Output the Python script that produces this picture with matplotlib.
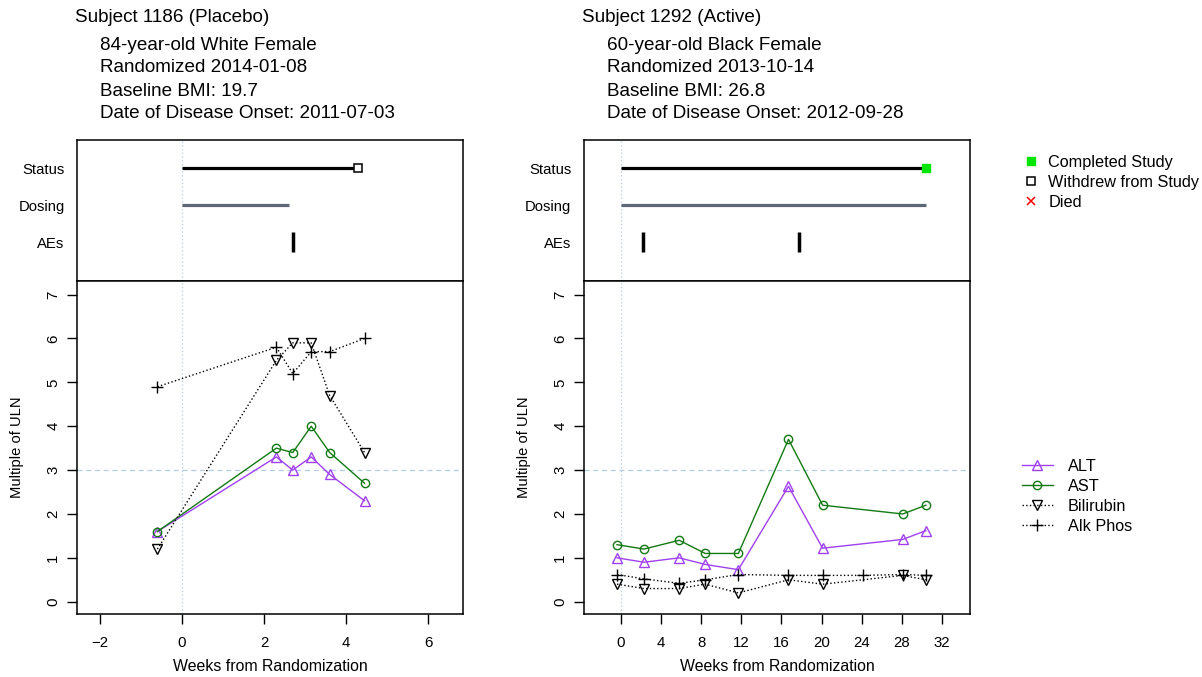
import matplotlib.pyplot as plt
from matplotlib.lines import Line2D

plt.rcParams['font.family'] = ['Liberation Sans', 'DejaVu Sans']

# header text for each subject
s1_header = ["Subject 1186 (Placebo)", "84-year-old White Female", "Randomized 2014-01-08",
             "Baseline BMI: 19.7", "Date of Disease Onset: 2011-07-03"]
s2_header = ["Subject 1292 (Active)", "60-year-old Black Female", "Randomized 2013-10-14",
             "Baseline BMI: 26.8", "Date of Disease Onset: 2012-09-28"]

track_labels = ["Status", "Dosing", "AEs"]
status_labels = ["Completed Study", "Withdrew from Study", "Died"]
lab_labels = ["ALT", "AST", "Bilirubin", "Alk Phos"]

# subject 1186 (weeks from randomization)
s1_status_end = 4.3
s1_status = "Withdrew from Study"
s1_dose_end = 2.6
s1_ae_weeks = [2.7]
s1_weeks = [-0.6, 2.3, 2.7, 3.15, 3.6, 4.45]
s1_alt = [1.6, 3.3, 3.0, 3.3, 2.9, 2.3]
s1_ast = [1.6, 3.5, 3.4, 4.0, 3.4, 2.7]
s1_bili = [1.2, 5.5, 5.9, 5.9, 4.7, 3.4]
s1_alkp_weeks = [-0.6, 2.3, 2.7, 3.15, 3.6, 4.45]
s1_alkp = [4.9, 5.8, 5.2, 5.7, 5.7, 6.0]

# subject 1292
s2_status_end = 30.4
s2_status = "Completed Study"
s2_dose_end = 30.4
s2_ae_weeks = [2.2, 17.7]
s2_weeks = [-0.4, 2.3, 5.8, 8.4, 11.7, 16.7, 20.1, 28.1, 30.4]
s2_alt = [1.0, 0.9, 1.0, 0.85, 0.73, 2.63, 1.22, 1.42, 1.62]
s2_ast = [1.3, 1.2, 1.4, 1.1, 1.1, 3.7, 2.2, 2.0, 2.2]
s2_bili = [0.4, 0.3, 0.3, 0.4, 0.2, 0.5, 0.4, 0.6, 0.5]
s2_alkp_weeks = [-0.4, 2.3, 5.8, 8.4, 11.7, 16.7, 20.1, 24.1, 28.1, 30.4]
s2_alkp = [0.62, 0.52, 0.42, 0.5, 0.62, 0.6, 0.6, 0.6, 0.62, 0.6]

s1_xticks = [-2, 0, 2, 4, 6]
s2_xticks = [0, 4, 8, 12, 16, 20, 24, 28, 32]
y_ticks = [0, 1, 2, 3, 4, 5, 6, 7]

alt_col = '#a040f0'
ast_col = '#137a13'
dose_col = '#5f6877'
ref_col = '#b4cdee'

status_style = {
    "Completed Study": dict(marker='s', color='#00e600', mfc='#00e600', mec='#00e600', ms=6),
    "Withdrew from Study": dict(marker='s', color='black', mfc='white', mec='black', ms=6, mew=1.1),
    "Died": dict(marker='x', color='red', mec='red', ms=6, mew=1.1),
}

W, H = 1202, 677
fig = plt.figure(figsize=(W / 100, H / 100), dpi=100)


def px_axes(x0, y0, x1, y1):
    return fig.add_axes([x0 / W, 1 - y1 / H, (x1 - x0) / W, (y1 - y0) / H])


def draw_subject(x0, header, xlim, xticks, status_end, status, dose_end, ae_weeks,
                 weeks, alt, ast, bili, alkp_weeks, alkp):
    x1 = x0 + 386
    # header text
    fig.text((x0 - 2) / W, 1 - 18 / H, header[0], fontsize=13.6, va='center', ha='left')
    for i, line in enumerate(header[1:]):
        fig.text((x0 + 23) / W, 1 - [45, 68, 91, 113][i] / H, line, fontsize=13.6,
                 va='center', ha='left')

    top = px_axes(x0, 140, x1, 281)
    top.set_xlim(xlim)
    top.set_ylim(-0.05, 3.76)
    top.plot([0, status_end], [3, 3], color='black', lw=2.3, solid_capstyle='butt', zorder=3)
    top.plot([status_end], [3], ls='none', zorder=4, **status_style[status])
    top.plot([0, dose_end], [2, 2], color=dose_col, lw=2.3, solid_capstyle='butt', zorder=3)
    top.plot(ae_weeks, [1] * len(ae_weeks), ls='none', marker='|', ms=14, mew=2.5,
             color='black', zorder=3)
    top.axvline(0, color=ref_col, ls=(0, (1, 2)), lw=0.9, zorder=1)
    top.set_xticks([])
    top.set_yticks([3, 2, 1])
    top.set_yticklabels(track_labels, fontsize=10.7)
    top.tick_params(axis='y', length=0, pad=9)

    bot = px_axes(x0, 281, x1, 614)
    bot.set_xlim(xlim)
    bot.set_ylim(-0.28, 7.31)
    bot.axvline(0, color=ref_col, ls=(0, (1, 2)), lw=0.9, zorder=1)
    bot.axhline(3, color=ref_col, ls=(0, (4, 3)), lw=0.9, zorder=1)
    bot.plot(weeks, alt, color=alt_col, lw=1, marker='^', ms=7.5, mfc='none', mew=1, zorder=3)
    bot.plot(weeks, ast, color=ast_col, lw=1, marker='o', ms=6, mfc='none', mew=1, zorder=3)
    bot.plot(weeks, bili, color='black', lw=1, ls=':', marker='v', ms=7.5, mfc='none',
             mew=1, zorder=3)
    bot.plot(alkp_weeks, alkp, color='black', lw=1, ls=':', marker='+', ms=9, mew=1, zorder=3)
    bot.set_xticks(xticks)
    bot.set_yticks(y_ticks)
    bot.tick_params(axis='both', length=7, width=1, labelsize=10.8, direction='out')
    bot.tick_params(axis='x', pad=9)
    bot.tick_params(axis='y', pad=5)
    for lab in bot.get_yticklabels():
        lab.set_rotation(90)
        lab.set_va('center')
    bot.set_xlabel("Weeks from Randomization", fontsize=11.4, labelpad=6)
    bot.set_ylabel("Multiple of ULN", fontsize=10.6, labelpad=16)
    for ax in (top, bot):
        for sp in ax.spines.values():
            sp.set_linewidth(1.1)


draw_subject(77, s1_header, (-2.56, 6.85), s1_xticks, s1_status_end, s1_status,
             s1_dose_end, s1_ae_weeks, s1_weeks, s1_alt, s1_ast, s1_bili,
             s1_alkp_weeks, s1_alkp)
draw_subject(584, s2_header, (-3.69, 34.8), s2_xticks, s2_status_end, s2_status,
             s2_dose_end, s2_ae_weeks, s2_weeks, s2_alt, s2_ast, s2_bili,
             s2_alkp_weeks, s2_alkp)

# status legend
st_handles = [Line2D([], [], ls='none', **status_style[s]) for s in status_labels]
fig.legend(st_handles, status_labels, loc='upper left', bbox_to_anchor=(1023 / W, 1 - 155 / H),
           frameon=False, fontsize=11.7, handlelength=1.0, handletextpad=0.55,
           labelspacing=0.3, borderpad=0, borderaxespad=0)

# lab legend
lab_handles = [
    Line2D([], [], color=alt_col, lw=1, marker='^', ms=7.5, mfc='none'),
    Line2D([], [], color=ast_col, lw=1, marker='o', ms=6, mfc='none'),
    Line2D([], [], color='black', lw=1, ls=':', marker='v', ms=7.5, mfc='none'),
    Line2D([], [], color='black', lw=1, ls=':', marker='+', ms=9),
]
fig.legend(lab_handles, lab_labels, loc='upper left', bbox_to_anchor=(1022 / W, 1 - 459 / H),
           frameon=False, fontsize=11.7, handlelength=1.9, handletextpad=0.9,
           labelspacing=0.3, borderpad=0, borderaxespad=0)

fig.savefig('out.png', dpi=100)
